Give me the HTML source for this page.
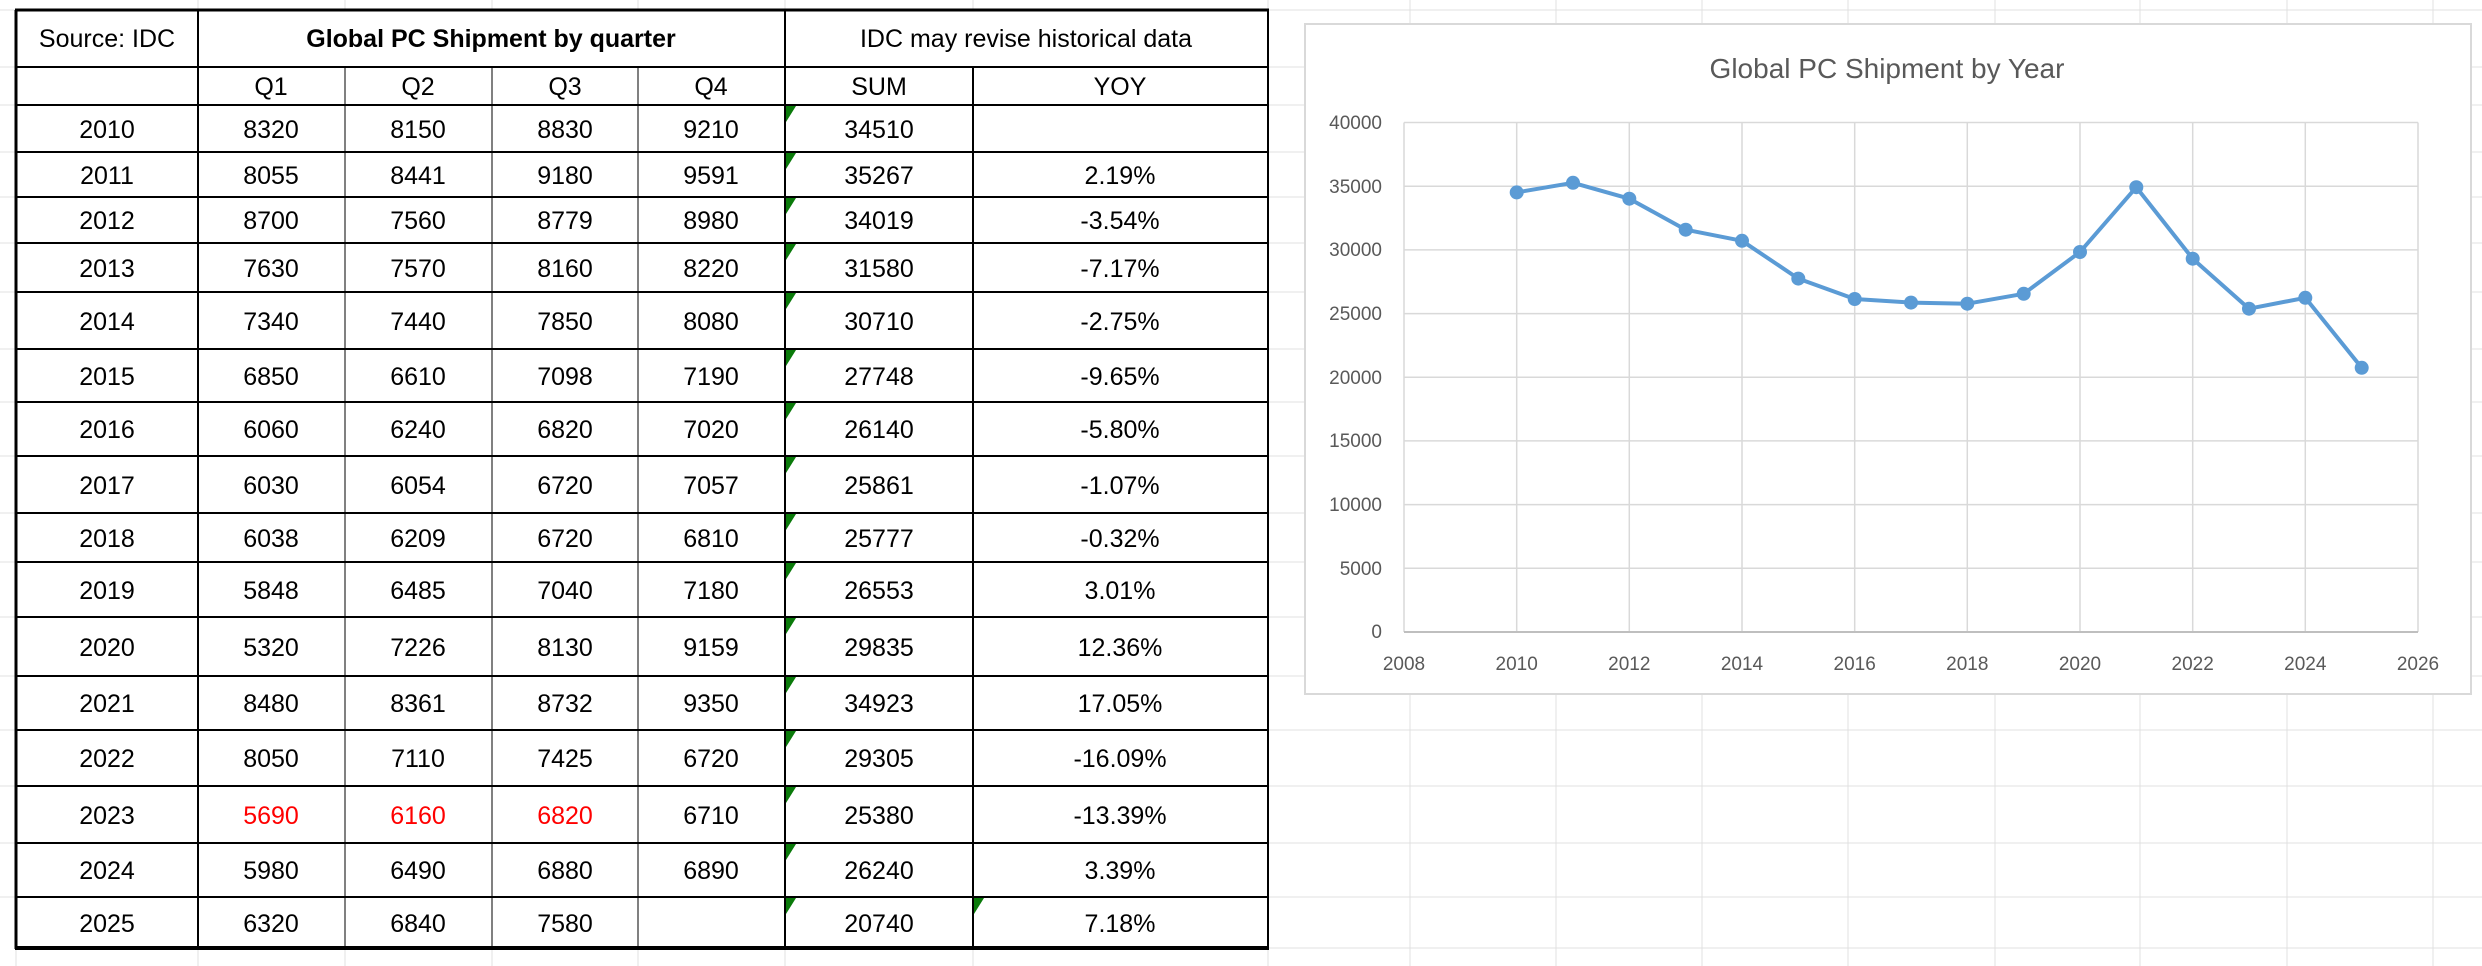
<!DOCTYPE html>
<html><head><meta charset="utf-8"><style>
html,body{margin:0;padding:0;background:#fff;}
svg{display:block;}
text{font-family:"Liberation Sans",sans-serif;}
</style></head><body>
<svg width="2482" height="966" viewBox="0 0 2482 966" xmlns="http://www.w3.org/2000/svg">
<rect width="2482" height="966" fill="#fff"/>
<!-- excel gridlines -->
<g stroke="#e1e1e1" stroke-width="1">
<line x1="1268" y1="10" x2="2482" y2="10"/><line x1="1268" y1="67" x2="2482" y2="67"/><line x1="1268" y1="105" x2="2482" y2="105"/><line x1="1268" y1="152" x2="2482" y2="152"/><line x1="1268" y1="197" x2="2482" y2="197"/><line x1="1268" y1="243" x2="2482" y2="243"/><line x1="1268" y1="292" x2="2482" y2="292"/><line x1="1268" y1="349" x2="2482" y2="349"/><line x1="1268" y1="402" x2="2482" y2="402"/><line x1="1268" y1="456" x2="2482" y2="456"/><line x1="1268" y1="513" x2="2482" y2="513"/><line x1="1268" y1="562" x2="2482" y2="562"/><line x1="1268" y1="617" x2="2482" y2="617"/><line x1="1268" y1="676" x2="2482" y2="676"/><line x1="1268" y1="730" x2="2482" y2="730"/><line x1="1268" y1="786" x2="2482" y2="786"/><line x1="1268" y1="843" x2="2482" y2="843"/><line x1="1268" y1="897" x2="2482" y2="897"/><line x1="1268" y1="948" x2="2482" y2="948"/>
<line x1="0" y1="10" x2="16" y2="10"/><line x1="0" y1="67" x2="16" y2="67"/><line x1="0" y1="105" x2="16" y2="105"/><line x1="0" y1="152" x2="16" y2="152"/><line x1="0" y1="197" x2="16" y2="197"/><line x1="0" y1="243" x2="16" y2="243"/><line x1="0" y1="292" x2="16" y2="292"/><line x1="0" y1="349" x2="16" y2="349"/><line x1="0" y1="402" x2="16" y2="402"/><line x1="0" y1="456" x2="16" y2="456"/><line x1="0" y1="513" x2="16" y2="513"/><line x1="0" y1="562" x2="16" y2="562"/><line x1="0" y1="617" x2="16" y2="617"/><line x1="0" y1="676" x2="16" y2="676"/><line x1="0" y1="730" x2="16" y2="730"/><line x1="0" y1="786" x2="16" y2="786"/><line x1="0" y1="843" x2="16" y2="843"/><line x1="0" y1="897" x2="16" y2="897"/>
<line x1="1410" y1="0" x2="1410" y2="966"/><line x1="1556" y1="0" x2="1556" y2="966"/><line x1="1702" y1="0" x2="1702" y2="966"/><line x1="1848" y1="0" x2="1848" y2="966"/><line x1="1995" y1="0" x2="1995" y2="966"/><line x1="2140" y1="0" x2="2140" y2="966"/><line x1="2287" y1="0" x2="2287" y2="966"/><line x1="2433" y1="0" x2="2433" y2="966"/>
<line x1="198" y1="0" x2="198" y2="10"/><line x1="345" y1="0" x2="345" y2="10"/><line x1="492" y1="0" x2="492" y2="10"/><line x1="638" y1="0" x2="638" y2="10"/><line x1="785" y1="0" x2="785" y2="10"/><line x1="973" y1="0" x2="973" y2="10"/>
<line x1="198" y1="948" x2="198" y2="966"/><line x1="345" y1="948" x2="345" y2="966"/><line x1="492" y1="948" x2="492" y2="966"/><line x1="638" y1="948" x2="638" y2="966"/><line x1="785" y1="948" x2="785" y2="966"/><line x1="973" y1="948" x2="973" y2="966"/><line x1="16" y1="948" x2="16" y2="966"/>
<line x1="1268" y1="0" x2="1268" y2="966"/>
</g>
<!-- table lines -->
<g stroke="#000">
<g stroke-width="2">
<line x1="16" y1="67" x2="1268" y2="67"/><line x1="16" y1="105" x2="1268" y2="105"/><line x1="16" y1="152" x2="1268" y2="152"/><line x1="16" y1="197" x2="1268" y2="197"/><line x1="16" y1="243" x2="1268" y2="243"/><line x1="16" y1="292" x2="1268" y2="292"/><line x1="16" y1="349" x2="1268" y2="349"/><line x1="16" y1="402" x2="1268" y2="402"/><line x1="16" y1="456" x2="1268" y2="456"/><line x1="16" y1="513" x2="1268" y2="513"/><line x1="16" y1="562" x2="1268" y2="562"/><line x1="16" y1="617" x2="1268" y2="617"/><line x1="16" y1="676" x2="1268" y2="676"/><line x1="16" y1="730" x2="1268" y2="730"/><line x1="16" y1="786" x2="1268" y2="786"/><line x1="16" y1="843" x2="1268" y2="843"/><line x1="16" y1="897" x2="1268" y2="897"/>
<line x1="198" y1="10" x2="198" y2="948"/><line x1="785" y1="10" x2="785" y2="948"/><line x1="973" y1="67" x2="973" y2="948"/>
</g>
<g stroke-width="1">
<line x1="345" y1="67" x2="345" y2="948"/><line x1="492" y1="67" x2="492" y2="948"/><line x1="638" y1="67" x2="638" y2="948"/>
</g>
<line x1="15" y1="10" x2="1269" y2="10" stroke-width="3"/>
<line x1="16" y1="10" x2="16" y2="949" stroke-width="3"/>
<line x1="1268" y1="10" x2="1268" y2="949" stroke-width="2"/>
<line x1="15" y1="948" x2="1269" y2="948" stroke-width="4"/>
</g>
<!-- green triangles -->
<g fill="#0a7a0a">
<polygon points="786,106 796,106 786,122"/><polygon points="786,153 796,153 786,169"/><polygon points="786,198 796,198 786,214"/><polygon points="786,244 796,244 786,260"/><polygon points="786,293 796,293 786,309"/><polygon points="786,350 796,350 786,366"/><polygon points="786,403 796,403 786,419"/><polygon points="786,457 796,457 786,473"/><polygon points="786,514 796,514 786,530"/><polygon points="786,563 796,563 786,579"/><polygon points="786,618 796,618 786,634"/><polygon points="786,677 796,677 786,693"/><polygon points="786,731 796,731 786,747"/><polygon points="786,787 796,787 786,803"/><polygon points="786,844 796,844 786,860"/><polygon points="786,898 796,898 786,914"/><polygon points="974,898 984,898 974,914"/>
</g>
<!-- table text -->
<g font-size="25" text-anchor="middle" fill="#000">
<text x="107" y="47">Source: IDC</text>
<text x="491" y="47" font-weight="bold">Global PC Shipment by quarter</text>
<text x="1026" y="47">IDC may revise historical data</text>
<text x="271" y="95">Q1</text><text x="418" y="95">Q2</text><text x="565" y="95">Q3</text><text x="711" y="95">Q4</text><text x="879" y="95">SUM</text><text x="1120" y="95">YOY</text>
</g>
<g font-size="25" text-anchor="middle" fill="#000">
<g transform="translate(0,138)"><text x="107">2010</text><text x="271">8320</text><text x="418">8150</text><text x="565">8830</text><text x="711">9210</text><text x="879">34510</text></g>
<g transform="translate(0,184)"><text x="107">2011</text><text x="271">8055</text><text x="418">8441</text><text x="565">9180</text><text x="711">9591</text><text x="879">35267</text><text x="1120">2.19%</text></g>
<g transform="translate(0,229)"><text x="107">2012</text><text x="271">8700</text><text x="418">7560</text><text x="565">8779</text><text x="711">8980</text><text x="879">34019</text><text x="1120">-3.54%</text></g>
<g transform="translate(0,277)"><text x="107">2013</text><text x="271">7630</text><text x="418">7570</text><text x="565">8160</text><text x="711">8220</text><text x="879">31580</text><text x="1120">-7.17%</text></g>
<g transform="translate(0,330)"><text x="107">2014</text><text x="271">7340</text><text x="418">7440</text><text x="565">7850</text><text x="711">8080</text><text x="879">30710</text><text x="1120">-2.75%</text></g>
<g transform="translate(0,385)"><text x="107">2015</text><text x="271">6850</text><text x="418">6610</text><text x="565">7098</text><text x="711">7190</text><text x="879">27748</text><text x="1120">-9.65%</text></g>
<g transform="translate(0,438)"><text x="107">2016</text><text x="271">6060</text><text x="418">6240</text><text x="565">6820</text><text x="711">7020</text><text x="879">26140</text><text x="1120">-5.80%</text></g>
<g transform="translate(0,494)"><text x="107">2017</text><text x="271">6030</text><text x="418">6054</text><text x="565">6720</text><text x="711">7057</text><text x="879">25861</text><text x="1120">-1.07%</text></g>
<g transform="translate(0,547)"><text x="107">2018</text><text x="271">6038</text><text x="418">6209</text><text x="565">6720</text><text x="711">6810</text><text x="879">25777</text><text x="1120">-0.32%</text></g>
<g transform="translate(0,599)"><text x="107">2019</text><text x="271">5848</text><text x="418">6485</text><text x="565">7040</text><text x="711">7180</text><text x="879">26553</text><text x="1120">3.01%</text></g>
<g transform="translate(0,656)"><text x="107">2020</text><text x="271">5320</text><text x="418">7226</text><text x="565">8130</text><text x="711">9159</text><text x="879">29835</text><text x="1120">12.36%</text></g>
<g transform="translate(0,712)"><text x="107">2021</text><text x="271">8480</text><text x="418">8361</text><text x="565">8732</text><text x="711">9350</text><text x="879">34923</text><text x="1120">17.05%</text></g>
<g transform="translate(0,767)"><text x="107">2022</text><text x="271">8050</text><text x="418">7110</text><text x="565">7425</text><text x="711">6720</text><text x="879">29305</text><text x="1120">-16.09%</text></g>
<g transform="translate(0,824)"><text x="107">2023</text><text x="271" fill="#ff0000">5690</text><text x="418" fill="#ff0000">6160</text><text x="565" fill="#ff0000">6820</text><text x="711">6710</text><text x="879">25380</text><text x="1120">-13.39%</text></g>
<g transform="translate(0,879)"><text x="107">2024</text><text x="271">5980</text><text x="418">6490</text><text x="565">6880</text><text x="711">6890</text><text x="879">26240</text><text x="1120">3.39%</text></g>
<g transform="translate(0,932)"><text x="107">2025</text><text x="271">6320</text><text x="418">6840</text><text x="565">7580</text><text x="879">20740</text><text x="1120">7.18%</text></g>
</g>
<!-- chart -->
<rect x="1305" y="24" width="1166" height="670" fill="#fff" stroke="#d9d9d9" stroke-width="2"/>
<text x="1887" y="78" font-size="28" text-anchor="middle" fill="#595959">Global PC Shipment by Year</text>
<g stroke="#d9d9d9" stroke-width="1.5">
<line x1="1404" y1="122.5" x2="2418" y2="122.5"/><line x1="1404" y1="186.2" x2="2418" y2="186.2"/><line x1="1404" y1="249.9" x2="2418" y2="249.9"/><line x1="1404" y1="313.6" x2="2418" y2="313.6"/><line x1="1404" y1="377.2" x2="2418" y2="377.2"/><line x1="1404" y1="440.9" x2="2418" y2="440.9"/><line x1="1404" y1="504.6" x2="2418" y2="504.6"/><line x1="1404" y1="568.3" x2="2418" y2="568.3"/>
<line x1="1404" y1="122.5" x2="1404" y2="632"/><line x1="1516.7" y1="122.5" x2="1516.7" y2="632"/><line x1="1629.3" y1="122.5" x2="1629.3" y2="632"/><line x1="1742" y1="122.5" x2="1742" y2="632"/><line x1="1854.7" y1="122.5" x2="1854.7" y2="632"/><line x1="1967.3" y1="122.5" x2="1967.3" y2="632"/><line x1="2080" y1="122.5" x2="2080" y2="632"/><line x1="2192.7" y1="122.5" x2="2192.7" y2="632"/><line x1="2305.3" y1="122.5" x2="2305.3" y2="632"/><line x1="2418" y1="122.5" x2="2418" y2="632"/>
</g>
<line x1="1404" y1="632" x2="2418" y2="632" stroke="#bfbfbf" stroke-width="2"/>
<g font-size="19" fill="#595959" text-anchor="end">
<text x="1382" y="129">40000</text><text x="1382" y="193">35000</text><text x="1382" y="256">30000</text><text x="1382" y="320">25000</text><text x="1382" y="384">20000</text><text x="1382" y="447">15000</text><text x="1382" y="511">10000</text><text x="1382" y="575">5000</text><text x="1382" y="638">0</text>
</g>
<g font-size="19" fill="#595959" text-anchor="middle">
<text x="1404" y="670">2008</text><text x="1516.7" y="670">2010</text><text x="1629.3" y="670">2012</text><text x="1742" y="670">2014</text><text x="1854.7" y="670">2016</text><text x="1967.3" y="670">2018</text><text x="2080" y="670">2020</text><text x="2192.7" y="670">2022</text><text x="2305.3" y="670">2024</text><text x="2418" y="670">2026</text>
</g>
<polyline fill="none" stroke="#5b9bd5" stroke-width="4" stroke-linejoin="round" points="1516.7,192.4 1573,182.8 1629.3,198.7 1685.7,229.7 1742,240.8 1798.3,278.6 1854.7,299 1911,302.6 1967.3,303.7 2023.7,293.8 2080,252 2136.3,187.2 2192.7,258.7 2249,308.7 2305.3,297.8 2361.7,367.8"/>
<g fill="#5b9bd5">
<circle cx="1516.7" cy="192.4" r="7"/><circle cx="1573" cy="182.8" r="7"/><circle cx="1629.3" cy="198.7" r="7"/><circle cx="1685.7" cy="229.7" r="7"/><circle cx="1742" cy="240.8" r="7"/><circle cx="1798.3" cy="278.6" r="7"/><circle cx="1854.7" cy="299" r="7"/><circle cx="1911" cy="302.6" r="7"/><circle cx="1967.3" cy="303.7" r="7"/><circle cx="2023.7" cy="293.8" r="7"/><circle cx="2080" cy="252" r="7"/><circle cx="2136.3" cy="187.2" r="7"/><circle cx="2192.7" cy="258.7" r="7"/><circle cx="2249" cy="308.7" r="7"/><circle cx="2305.3" cy="297.8" r="7"/><circle cx="2361.7" cy="367.8" r="7"/>
</g>
</svg>
</body></html>
